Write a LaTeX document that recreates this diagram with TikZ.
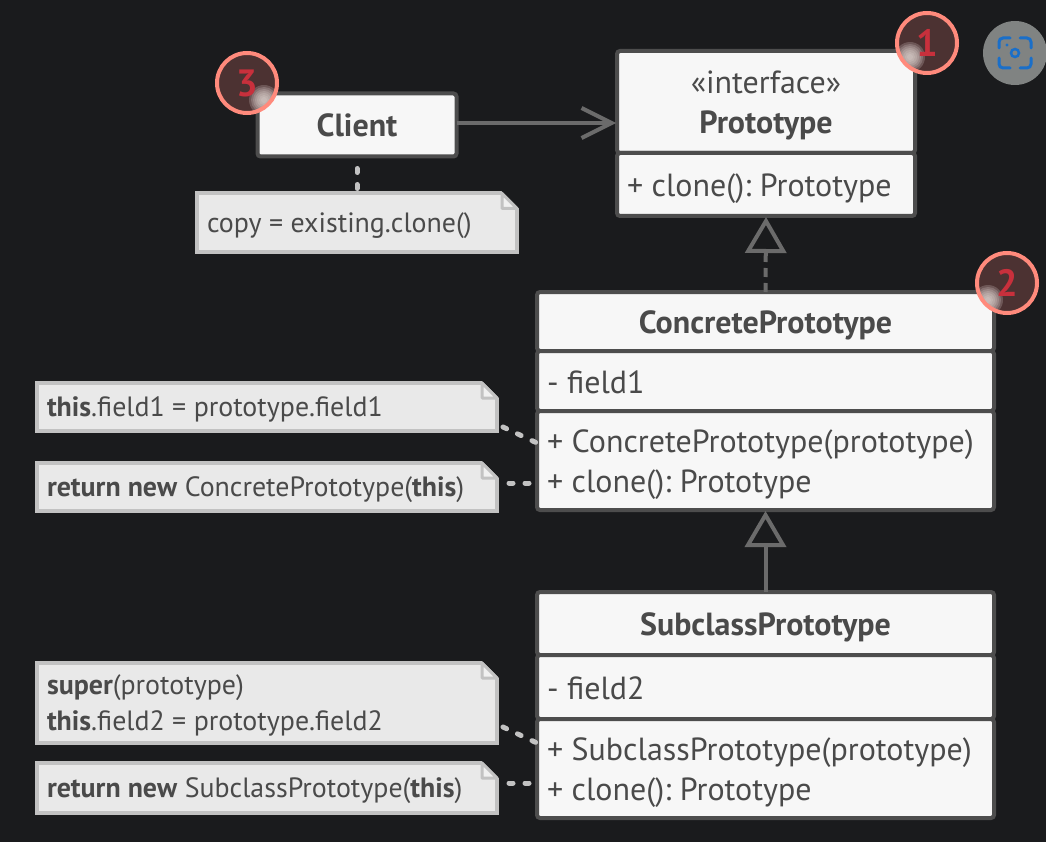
\documentclass[tikz,border=0pt]{standalone}
\usepackage{fontspec}
\setmainfont{PT Sans}
\usepackage{xcolor}
\usepackage{tikz}
\usetikzlibrary{positioning,calc,arrows.meta}

\definecolor{pagebg}{HTML}{1A1B1D}
\definecolor{boxedge}{HTML}{4D4D4D}
\definecolor{boxfill}{HTML}{F7F7F7}
\definecolor{inktext}{HTML}{4A4A4A}
\definecolor{noteedge}{HTML}{C2C2C2}
\definecolor{notefill}{HTML}{E9E9E9}
\definecolor{linkgray}{HTML}{6B6B6B}
\definecolor{ringred}{HTML}{FF8A7C}
\definecolor{badgefill}{HTML}{4C3232}
\definecolor{badgeglow}{HTML}{E4DAD6}
\definecolor{badgeink}{HTML}{C8303C}
\definecolor{lensgray}{HTML}{808382}
\definecolor{lensblue}{HTML}{1A6FC9}

\newcommand{\boxfont}{\fontsize{32pt}{40pt}\selectfont\frenchspacing}
\newcommand{\notefont}{\fontsize{27.9pt}{36pt}\selectfont\frenchspacing}
\newcommand{\linestrut}[1]{\rule[-0.3\baselineskip]{0pt}{\dimexpr\baselineskip+#1\relax}}

\tikzset{
    classbox/.style={draw=boxedge,fill=boxfill,line width=4pt,rounded corners=3pt,
        outer sep=0pt,inner ysep=0pt,inner xsep=10pt,text=inktext,font=\boxfont,
        execute at begin node=\linestrut{8pt},execute at end node=\linestrut{0pt}},
    classhead/.style={classbox,text width=#1,align=center},
    classpart/.style={classbox,text width=#1,align=flush left},
    notebox/.style={draw=noteedge,fill=notefill,line width=4pt,outer sep=0pt,
        inner ysep=0pt,inner xsep=10pt,text=inktext,font=\notefont,align=flush left,
        execute at begin node=\linestrut{5pt},execute at end node=\linestrut{0pt}},
    notelink/.style={draw=noteedge,line width=5pt,line cap=round,dash pattern=on 4pt off 12pt},
    uses/.style={draw=linkgray,line width=4pt,shorten >=1pt,
        -{Straight Barb[length=30pt,width=30pt]}},
    inherits/.style={draw=linkgray,line width=4pt,shorten >=1pt,
        -{Triangle[open,length=36pt,width=41pt]}},
    badge/.style={circle,draw=ringred,line width=4pt,fill=badgefill,minimum size=60pt,
        inner sep=0pt,text=badgeink,font=\fontsize{38pt}{38pt}\selectfont\bfseries,
        path picture={\foreach \r in {15,13,...,3} {
            \fill[badgeglow,opacity=0.22]
                ($(path picture bounding box.center)+(#1)$) circle (\r);
        }}},
}

\newcommand{\notefold}[1]{
    \fill[pagebg] ($(#1.north east)+(-16,-3)$) -- ($(#1.north east)+(3,-3)$)
        -- ($(#1.north east)+(3,16)$) -- cycle;
    \draw[noteedge,line width=3pt,fill=notefill!70!white,line join=round]
        ($(#1.north east)+(-15,0)$) -- ($(#1.north east)+(0,15)$)
        -- ($(#1.north east)+(-15,15)$) -- cycle;
}

\begin{document}
\begin{tikzpicture}[x=1pt,y=-1pt]
    \fill[pagebg] (0,0) rectangle (1046,842);
    \useasboundingbox (0,0) rectangle (1046,842);

    % Classes
    \node[classhead=179pt,minimum height=63pt] (client) at (357,125) {\textbf{Client}};

    \node[classhead=278pt,minimum height=102pt] (protoHead) at (766,102)
        {«interface»\\\textbf{Prototype}};
    \node[classpart=278pt,minimum height=63pt,below=0pt of protoHead] (protoMethods)
        {+ clone(): Prototype};

    \node[classhead=437pt,minimum height=59pt] (concreteHead) at (765.5,321.5)
        {\textbf{ConcretePrototype}};
    \node[classpart=437pt,minimum height=60pt,below=0pt of concreteHead] (concreteFields)
        {- field1};
    \node[classpart=437pt,minimum height=99pt,below=0pt of concreteFields] (concreteMethods)
        {+ ConcretePrototype(prototype)\\+ clone(): Prototype};

    \node[classhead=437pt,minimum height=63pt] (subclassHead) at (765.5,623.5)
        {\textbf{SubclassPrototype}};
    \node[classpart=437pt,minimum height=64pt,below=0pt of subclassHead] (subclassFields)
        {- field2};
    \node[classpart=437pt,minimum height=99pt,below=0pt of subclassFields] (subclassMethods)
        {+ SubclassPrototype(prototype)\\+ clone(): Prototype};

    % Notes
    \node[notebox,text width=300pt,minimum height=59pt] (copyNote) at (357,223)
        {copy = existing.clone()};
    \node[notebox,text width=440pt,minimum height=48pt] (concreteInit) at (267,407)
        {\textbf{this}.field1 = prototype.field1};
    \node[notebox,text width=440pt,minimum height=48pt] (concreteClone) at (267,487)
        {\textbf{return new} ConcretePrototype(\textbf{this})};
    \node[notebox,text width=440pt,minimum height=80pt] (subclassInit) at (267,703)
        {\textbf{super}(prototype)\\\textbf{this}.field2 = prototype.field2};
    \node[notebox,text width=440pt,minimum height=50pt] (subclassClone) at (267,788)
        {\textbf{return new} SubclassPrototype(\textbf{this})};
    \foreach \note in {copyNote,concreteInit,concreteClone,subclassInit,subclassClone} {
        \notefold{\note}
    }

    % Connectors
    \draw[uses] ([yshift=2pt]client.east) -- ([yshift=2pt]client.east -| protoHead.west);
    \draw[inherits,dash pattern=on 9pt off 6pt] (concreteHead.north) -- (protoMethods.south);
    \draw[inherits] (subclassHead.north) -- (concreteMethods.south);

    \coordinate (concreteCtor) at (537,443);
    \coordinate (concreteRet) at (537,483);
    \coordinate (subclassCtor) at (537,743);
    \coordinate (subclassRet) at (537,783);
    \draw[notelink,shorten <=12pt] (client.south) -- (copyNote.north);
    \draw[notelink] ($(concreteInit.south east)+(6,-4)$) -- (concreteCtor);
    \draw[notelink] (concreteClone.east |- concreteRet) ++(12,0) -- (concreteRet);
    \draw[notelink] ($(subclassInit.south east)+(6,-16)$) -- (subclassCtor);
    \draw[notelink] (subclassClone.east |- subclassRet) ++(12,0) -- (subclassRet);

    % Numbered badges
    \foreach \num/\pos/\off in {1/{927,43}/{-17,14},2/{1007,283}/{-19,17},3/{247,83}/{17,17}} {
        \node[badge={\off}] (badge\num) at (\pos) {\num};
    }

    % Screenshot button
    \node[circle,fill=lensgray,minimum size=64pt,inner sep=0pt] (lens) at (1015,53) {};
    \foreach \sx/\sy in {-1/-1,1/-1,1/1,-1/1} {
        \draw[lensblue,line width=3pt,line cap=round,rounded corners=4pt]
            ($(lens)+(\sx*16,\sy*5)$) -- ($(lens)+(\sx*16,\sy*15)$) -- ($(lens)+(\sx*5,\sy*15)$);
    }
    \draw[lensblue,line width=2.5pt] (lens) circle (4);
    \fill[lensblue] ($(lens)+(-8,-8)$) circle (1.6);
\end{tikzpicture}
\end{document}
